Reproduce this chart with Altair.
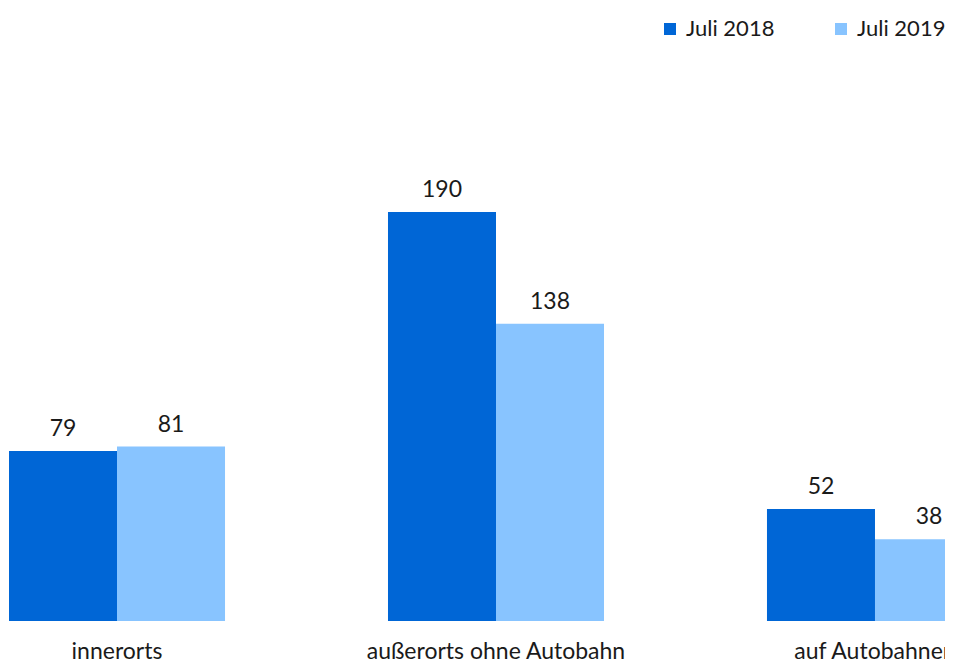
import altair as alt
import pandas as pd

categories = ["innerorts", "außerorts ohne Autobahn", "auf Autobahnen"]
series = ["Juli 2018", "Juli 2019"]
values_2018 = [79, 190, 52]
values_2019 = [81, 138, 38]
colors = ["#0066D6", "#88C4FF"]

rows = []
for c, a, b in zip(categories, values_2018, values_2019):
    rows.append({"Kategorie": c, "Serie": series[0], "Wert": a})
    rows.append({"Kategorie": c, "Serie": series[1], "Wert": b})
df = pd.DataFrame(rows)

FONT = "Lato"
TXT = "#1a1a1a"

x = alt.X(
    "Kategorie:N",
    sort=categories,
    title=None,
    scale=alt.Scale(range=[1, 975], paddingInner=0.43, paddingOuter=0),
    axis=alt.Axis(
        domain=False,
        ticks=False,
        grid=False,
        labelAngle=0,
        labelFontSize=23,
        labelFont=FONT,
        labelColor=TXT,
        labelPadding=19,
        labelLimit=400,
    ),
)
xoff = alt.XOffset("Serie:N", sort=series, scale=alt.Scale(paddingInner=0, paddingOuter=0))
y = alt.Y(
    "Wert:Q",
    title=None,
    scale=alt.Scale(domain=[0, 284.7], nice=False, zero=True),
    axis=None,
)

bars = alt.Chart(df).mark_bar(clip=True).encode(
    x=x,
    xOffset=xoff,
    y=y,
    color=alt.Color(
        "Serie:N",
        sort=series,
        scale=alt.Scale(domain=series, range=colors),
        legend=alt.Legend(
            title=None,
            orient="none",
            legendX=651,
            legendY=10,
            direction="horizontal",
            symbolType="square",
            symbolSize=144,
            symbolStrokeWidth=0,
            labelFontSize=22,
            labelFont=FONT,
            labelColor=TXT,
            labelOffset=5,
            columnPadding=55,
            padding=0,
        ),
    ),
)

labels = alt.Chart(df).mark_text(
    baseline="alphabetic", dy=-15, fontSize=23, font=FONT, color=TXT
).encode(
    x=x,
    xOffset=xoff,
    y=y,
    text=alt.Text("Wert:Q"),
)

chart = (
    alt.layer(bars, labels)
    .properties(
        width=937,
        height=613,
        background="white",
        autosize=alt.AutoSizeParams(type="none"),
        padding={"left": 0, "top": 0, "right": 0, "bottom": 41},
    )
    .configure_view(stroke="transparent", strokeWidth=0)
)

chart.save("out.html", embed_options={"renderer": "svg", "actions": False})
